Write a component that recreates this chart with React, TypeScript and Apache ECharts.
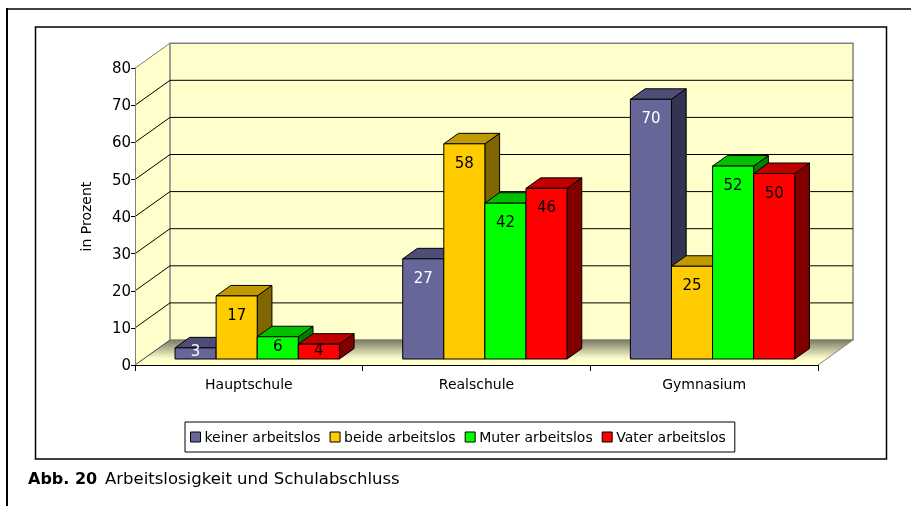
import React, { useEffect, useRef } from "react";
import * as echarts from "echarts";

const categories = ["Hauptschule", "Realschule", "Gymnasium"];
const seriesNames = ["keiner arbeitslos", "beide arbeitslos", "Muter arbeitslos", "Vater arbeitslos"];
const keinerValues = [3, 27, 70];
const beideValues = [17, 58, 25];
const muterValues = [6, 42, 52];
const vaterValues = [4, 46, 50];
const yTicks = [0, 10, 20, 30, 40, 50, 60, 70, 80];
const captionBold = "Abb. 20";
const captionText = "Arbeitslosigkeit und Schulabschluss";
const axisTitle = "in Prozent";

const FONT = "DejaVu Sans";
const DX = 35, DY = -25; // full depth of the 3D box
const FRONT = 0.24, DEPTH = 0.42; // bar plane position and bar depth (fraction of box depth)

const palette = [
  { front: "#666699", top: "#4D4D78", side: "#333352", label: "#FFFFFF" },
  { front: "#FFCC00", top: "#C09A00", side: "#806600", label: "#000000" },
  { front: "#00FF00", top: "#00C000", side: "#008000", label: "#000000" },
  { front: "#FF0000", top: "#C00000", side: "#800000", label: "#000000" },
];

export default function App() {
  const ref = useRef<HTMLDivElement>(null);
  useEffect(() => {
    if (!ref.current) return;
    const chart = echarts.init(ref.current, undefined, { renderer: "svg" });
    const allValues = [keinerValues, beideValues, muterValues, vaterValues];

    const wallSeries: any = {
      type: "custom",
      name: "walls",
      z: -1,
      silent: true,
      data: [[0, 0]],
      encode: { x: 0, y: 1 },
      renderItem: (params: any, api: any) => {
        const cs = params.coordSys;
        const x0 = cs.x, x1 = cs.x + cs.width;
        const y0 = api.coord([0, 0])[1];
        const yMax = api.coord([0, yTicks[yTicks.length - 1]])[1];
        const children: any[] = [];
        children.push({
          type: "polygon",
          shape: { points: [[x0, y0], [x0 + DX, y0 + DY], [x0 + DX, yMax + DY], [x0, yMax]] },
          style: { fill: "#FFFFCC", stroke: null },
        });
        children.push({
          type: "rect",
          shape: { x: x0 + DX, y: yMax + DY, width: x1 - x0, height: y0 - yMax },
          style: { fill: "#FFFFCC", stroke: "#808080", lineWidth: 1.5 },
        });
        children.push({
          type: "polygon",
          shape: { points: [[x0, y0], [x1, y0], [x1 + DX, y0 + DY], [x0 + DX, y0 + DY]] },
          style: {
            fill: new echarts.graphic.LinearGradient(0, 0, 0, 1, [
              { offset: 0, color: "#7A7A62" },
              { offset: 0.45, color: "#CBCBA5" },
              { offset: 0.75, color: "#FFFFCC" },
              { offset: 1, color: "#FFFFCC" },
            ]),
            stroke: null,
          },
        });
        children.push({
          type: "line",
          shape: { x1: x1, y1: y0, x2: x1 + DX, y2: y0 + DY },
          style: { stroke: "#808080", lineWidth: 1 },
        });
        children.push({
          type: "line",
          shape: { x1: x0, y1: yMax, x2: x0 + DX, y2: yMax + DY },
          style: { stroke: "#808080", lineWidth: 1 },
        });
        yTicks.forEach((v, i) => {
          const yv = api.coord([0, v])[1];
          if (i > 0 && i < yTicks.length - 1) {
            children.push({
              type: "line",
              shape: { x1: x0 + DX, y1: yv + DY, x2: x1 + DX, y2: yv + DY },
              style: { stroke: "#000000", lineWidth: 1 },
            });
          }
          if (i < yTicks.length - 1) {
            children.push({
              type: "line",
              shape: { x1: x0, y1: yv, x2: x0 + DX, y2: yv + DY },
              style: { stroke: i === 0 ? "#404040" : "#000000", lineWidth: 1 },
            });
          }
        });
        return { type: "group", children };
      },
    };

    const barSeries = allValues.map((vals, si) => ({
      type: "custom",
      name: seriesNames[si],
      z: 2,
      itemStyle: { color: palette[si].front },
      data: vals.map((v, ci) => [ci, v]),
      encode: { x: 0, y: 1 },
      renderItem: (params: any, api: any) => {
        const ci = api.value(0);
        const v = api.value(1);
        const base = api.coord([ci, 0]);
        const topP = api.coord([ci, v]);
        const band = api.size([1, 0])[0];
        const bw = band * 0.1805;
        const ox = DX * FRONT, oy = DY * FRONT;
        const bdx = DX * DEPTH, bdy = DY * DEPTH;
        const xl = base[0] + ox + (si - 2) * bw;
        const xr = xl + bw;
        const yb = base[1] + oy;
        const yt = topP[1] + oy;
        const h = yb - yt;
        const c = palette[si];
        return {
          type: "group",
          children: [
            {
              type: "polygon",
              shape: { points: [[xr, yt], [xr + bdx, yt + bdy], [xr + bdx, yb + bdy], [xr, yb]] },
              style: { fill: c.side, stroke: "#000", lineWidth: 1 },
            },
            {
              type: "polygon",
              shape: { points: [[xl, yt], [xr, yt], [xr + bdx, yt + bdy], [xl + bdx, yt + bdy]] },
              style: { fill: c.top, stroke: "#000", lineWidth: 1 },
            },
            {
              type: "rect",
              shape: { x: xl, y: yt, width: bw, height: h },
              style: { fill: c.front, stroke: "#000", lineWidth: 1 },
            },
            {
              type: "text",
              style: {
                text: String(v),
                x: (xl + xr) / 2,
                y: yt + Math.min(19, Math.max(h / 2 - 2, 0)),
                textAlign: "center",
                textVerticalAlign: "middle",
                fill: c.label,
                fontSize: 15,
                fontFamily: FONT,
              },
            },
          ],
        };
      },
    }));

    const option: any = {
      animation: false,
      textStyle: { fontFamily: FONT },
      grid: { left: 135, right: 93, top: 68.2, bottom: 141, containLabel: false },
      xAxis: {
        type: "category",
        data: categories,
        axisLine: { show: true, lineStyle: { color: "#000", width: 1 } },
        axisTick: { show: true, length: 6, lineStyle: { color: "#000" } },
        axisLabel: { color: "#000", fontSize: 14, fontFamily: FONT, margin: 12 },
        splitLine: { show: false },
        z: 3,
      },
      yAxis: {
        type: "value",
        min: 0,
        max: 80,
        interval: 10,
        name: axisTitle,
        nameLocation: "middle",
        nameGap: 42,
        nameTextStyle: { color: "#000", fontSize: 14, fontFamily: FONT },
        axisLine: { show: true, lineStyle: { color: "#808080", width: 1 } },
        axisTick: { show: true, length: 4, lineStyle: { color: "#000" } },
        axisLabel: { color: "#000", fontSize: 15, fontFamily: FONT, margin: 4 },
        splitLine: { show: false },
        z: 3,
      },
      legend: {
        data: seriesNames,
        left: 185,
        top: 422,
        orient: "horizontal",
        icon: "rect",
        itemWidth: 10,
        itemHeight: 10,
        itemGap: 9,
        padding: [8, 9, 8, 5],
        borderColor: "#000",
        borderWidth: 1,
        itemStyle: { borderColor: "#000", borderWidth: 1 },
        textStyle: { color: "#000", fontSize: 14, fontFamily: FONT, padding: [0, 0, 0, -1] },
        selectedMode: false,
      },
      graphic: [
        { type: "line", shape: { x1: 7, y1: 9, x2: 911, y2: 9 }, style: { stroke: "#404040", lineWidth: 2 } },
        { type: "line", shape: { x1: 7, y1: 8, x2: 7, y2: 506 }, style: { stroke: "#000", lineWidth: 2 } },
        {
          type: "rect",
          shape: { x: 35.5, y: 27, width: 851, height: 432 },
          style: { fill: null, stroke: "#000", lineWidth: 1.5 },
          z: -10,
        },
        {
          type: "text",
          left: 28,
          top: 470,
          style: { text: captionBold, fontSize: 16, fontWeight: "bold", fontFamily: FONT, fill: "#000" },
        },
        {
          type: "text",
          left: 105,
          top: 470,
          style: { text: captionText, fontSize: 16.5, fontFamily: FONT, fill: "#000" },
        },
      ],
      series: [wallSeries, ...barSeries],
    };
    chart.setOption(option);
    return () => chart.dispose();
  }, []);
  return <div ref={ref} style={{ position: "fixed", left: 0, top: 0, width: 911, height: 506 }} />;
}
